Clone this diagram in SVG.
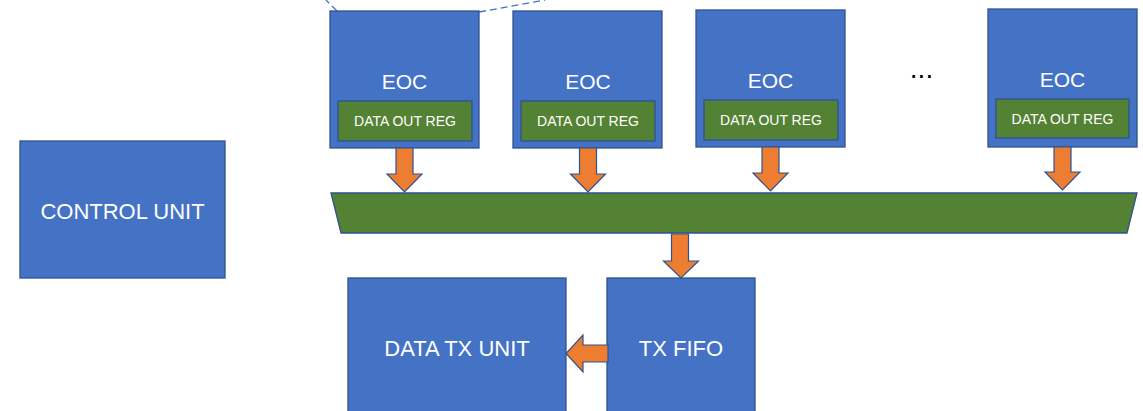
<svg xmlns="http://www.w3.org/2000/svg" width="1143" height="411" viewBox="0 0 1143 411">
  <style>
    .blk { fill: #4472C4; stroke: #2F528F; stroke-width: 1.3; }
    .reg { fill: #548235; stroke: #2F528F; stroke-width: 1.3; }
    .arr { fill: #ED7D31; stroke: #2F528F; stroke-width: 1.2; stroke-linejoin: miter; }
    .lbl { font-family: "Liberation Sans", Arial, sans-serif; fill: #FFFFFF; text-anchor: middle; }
    .big { font-size: 22px; }
    .eoc { font-size: 21px; }
    .small { font-size: 14px; }
    .dash { fill: none; stroke: #4472C4; stroke-width: 1.3; stroke-dasharray: 7 4; }
  </style>
  <rect width="1143" height="411" fill="#FFFFFF"/>

  <!-- zoom-out guides above the first EOC -->
  <g id="guides">
    <line class="dash" x1="337" y1="11" x2="326" y2="0"/>
    <line class="dash" x1="479" y1="12" x2="545" y2="0"/>
  </g>

  <g id="control-unit">
    <rect class="blk" x="20" y="141" width="205" height="137"/>
    <text class="lbl big" x="122.5" y="219">CONTROL UNIT</text>
  </g>

  <g id="eoc-1">
    <rect class="blk" x="330" y="11" width="149" height="137"/>
    <text class="lbl eoc" x="404.5" y="89">EOC</text>
    <rect class="reg" x="338" y="101" width="134" height="40"/>
    <text class="lbl small" x="405" y="126">DATA OUT REG</text>
  </g>

  <g id="eoc-2">
    <rect class="blk" x="513" y="11" width="149" height="137"/>
    <text class="lbl eoc" x="588" y="89">EOC</text>
    <rect class="reg" x="521" y="101" width="134" height="40"/>
    <text class="lbl small" x="588" y="126">DATA OUT REG</text>
  </g>

  <g id="eoc-3">
    <rect class="blk" x="696" y="10" width="149" height="137"/>
    <text class="lbl eoc" x="770.5" y="88">EOC</text>
    <rect class="reg" x="704" y="100" width="134" height="40"/>
    <text class="lbl small" x="771" y="125">DATA OUT REG</text>
  </g>

  <g id="ellipsis">
    <text x="921.5" y="78" font-family="Liberation Sans, Arial, sans-serif" font-size="28" fill="#000000" text-anchor="middle">...</text>
  </g>

  <g id="eoc-4">
    <rect class="blk" x="988" y="9" width="149" height="138"/>
    <text class="lbl eoc" x="1062.5" y="87">EOC</text>
    <rect class="reg" x="996" y="99" width="133" height="39"/>
    <text class="lbl small" x="1062.5" y="124">DATA OUT REG</text>
  </g>

  <g id="bus">
    <polygon class="reg" points="331,193 1137,193 1127,233 341,233"/>
  </g>

  <g id="tx-fifo">
    <rect class="blk" x="607" y="278" width="148" height="140"/>
    <text class="lbl big" x="681" y="356">TX FIFO</text>
  </g>

  <g id="data-tx-unit">
    <rect class="blk" x="348" y="278" width="218" height="140"/>
    <text class="lbl big" x="457" y="356">DATA TX UNIT</text>
  </g>

  <!-- block arrows between stages -->
  <g id="connectors">
    <polygon class="arr" points="396,148 413,148 413,174 422,174 404.5,192 387,174 396,174"/>
    <polygon class="arr" points="579.5,148 596.5,148 596.5,174 605.5,174 588,192 570.5,174 579.5,174"/>
    <polygon class="arr" points="762,147 779,147 779,173 788,173 770.5,191 753,173 762,173"/>
    <polygon class="arr" points="1054,147 1071,147 1071,172 1080,172 1062.5,190 1045,172 1054,172"/>
    <polygon class="arr" points="671.5,234 688.5,234 688.5,261 698.5,261 681,278 663.5,261 671.5,261"/>
    <polygon class="arr" points="608,345 583,345 583,335 566,353.5 583,372 583,362 608,362"/>
  </g>
</svg>
